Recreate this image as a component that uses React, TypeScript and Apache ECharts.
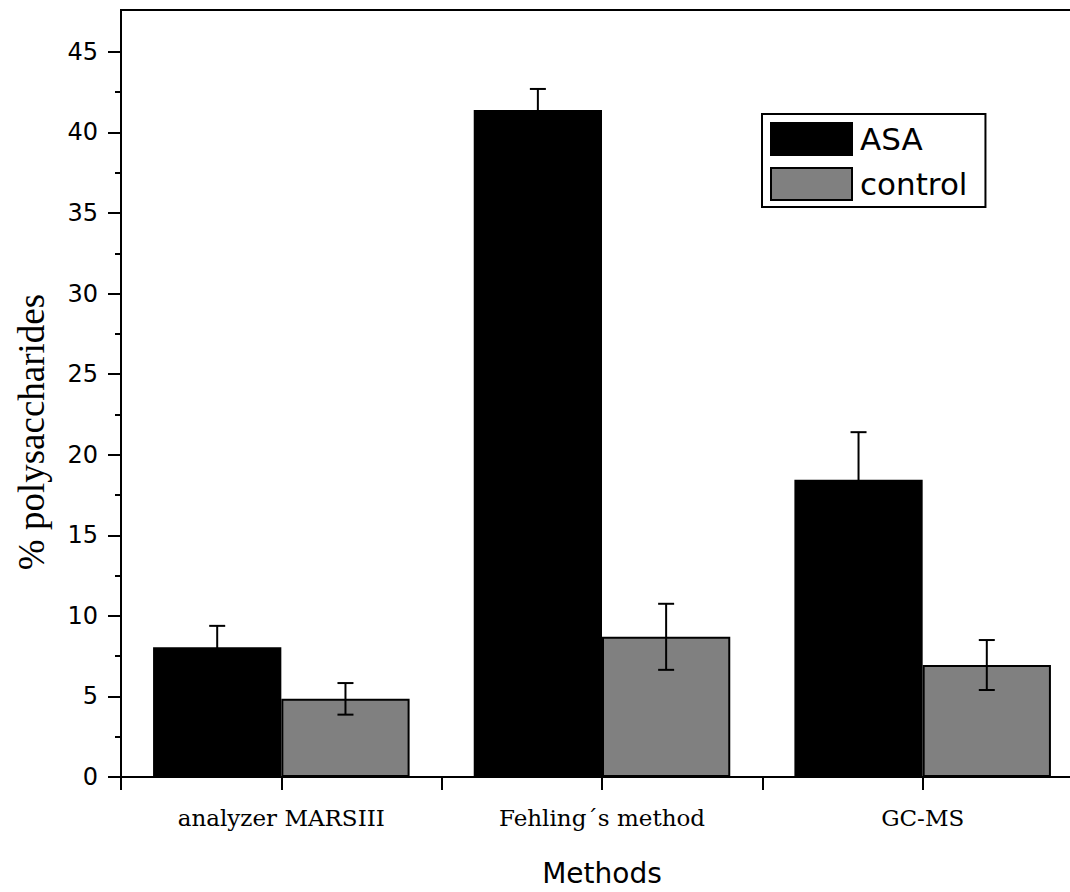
import React, { useEffect, useRef } from "react";
import * as echarts from "echarts";

const CATEGORIES = ["analyzer MARSIII", "Fehling´s method", "GC-MS"];
const ASA_VALUES = [8.05, 41.4, 18.45];
const ASA_ERRORS = [1.33, 1.3, 2.95];
const CONTROL_VALUES = [4.85, 8.7, 6.95];
const CONTROL_ERRORS = [0.98, 2.05, 1.55];
const Y_MAJOR_TICKS = [0, 5, 10, 15, 20, 25, 30, 35, 40, 45];
const Y_MINOR_TICKS = [2.5, 7.5, 12.5, 17.5, 22.5, 27.5, 32.5, 37.5, 42.5];
const Y_MAX = 47.6;
const SERIES_NAMES = ["ASA", "control"];
const X_TITLE = "Methods";
const Y_TITLE = "% polysaccharides";

const BAR_FRACTION = 0.4;

function errorRenderer(side: number) {
  return (params: any, api: any) => {
    const x = api.value(0);
    const y = api.value(1);
    const e = api.value(2);
    const band = api.size([1, 0])[0];
    const off = side * band * BAR_FRACTION / 2;
    const hi = api.coord([x, y + e]);
    const lo = api.coord([x, y - e]);
    const cx = hi[0] + off;
    const cap = 8;
    const style = { stroke: "#000", lineWidth: 2 };
    return {
      type: "group",
      children: [
        { type: "line", shape: { x1: cx, y1: hi[1], x2: cx, y2: lo[1] }, style },
        { type: "line", shape: { x1: cx - cap, y1: hi[1], x2: cx + cap, y2: hi[1] }, style },
        { type: "line", shape: { x1: cx - cap, y1: lo[1], x2: cx + cap, y2: lo[1] }, style },
      ],
    };
  };
}

export default function App() {
  const ref = useRef<HTMLDivElement>(null);
  useEffect(() => {
    if (!ref.current) return;
    const chart = echarts.init(ref.current, null, { renderer: "svg" });
    const axisLine = { show: true, lineStyle: { color: "#000", width: 2 } };
    chart.setOption({
      animation: false,
      backgroundColor: "#fff",
      grid: {
        left: 121,
        top: 10,
        right: 0,
        bottom: 110,
        show: true,
        borderColor: "#000",
        borderWidth: 2,
        backgroundColor: "transparent",
      },
      legend: {
        orient: "vertical",
        left: 762,
        top: 114,
        data: SERIES_NAMES,
        icon: "rect",
        itemWidth: 81,
        itemHeight: 32,
        itemGap: 11,
        borderColor: "#000",
        borderWidth: 2,
        padding: [8, 18, 6, 8],
        textStyle: { fontFamily: "DejaVu Sans", fontSize: 31, color: "#000", padding: [0, 0, 0, 3] },
        itemStyle: { borderColor: "#000", borderWidth: 2 },
      },
      xAxis: [
        {
          type: "category",
          data: CATEGORIES,
          position: "bottom",
          axisLine,
          axisTick: { show: true, inside: false, length: 13, lineStyle: { color: "#000", width: 2 } },
          axisLabel: { color: "#000", fontFamily: "DejaVu Serif", fontSize: 23, margin: 29 },
          name: X_TITLE,
          nameLocation: "middle",
          nameGap: 82,
          nameTextStyle: { color: "#000", fontFamily: "DejaVu Sans", fontSize: 28 },
        },
        {
          type: "category",
          data: CATEGORIES,
          position: "bottom",
          axisLine: { show: false },
          axisTick: { show: true, alignWithLabel: true, length: 13, lineStyle: { color: "#000", width: 2 } },
          axisLabel: { show: false },
        },
      ],
      yAxis: [
        {
          type: "value",
          min: 0,
          max: Y_MAX,
          position: "left",
          axisLine,
          splitLine: { show: false },
          axisTick: { show: true, length: 13, customValues: Y_MAJOR_TICKS, lineStyle: { color: "#000", width: 2 } },
          axisLabel: {
            customValues: Y_MAJOR_TICKS,
            color: "#000",
            fontFamily: "DejaVu Sans",
            fontSize: 24,
            margin: 23,
          },
        },
        {
          type: "value",
          min: 0,
          max: Y_MAX,
          position: "left",
          axisLine: { show: false },
          splitLine: { show: false },
          axisTick: { show: true, length: 6, customValues: Y_MINOR_TICKS, lineStyle: { color: "#000", width: 2 } },
          axisLabel: { show: false },
        },
      ],
      graphic: [
        {
          type: "text",
          x: 31,
          y: 432,
          rotation: Math.PI / 2,
          style: {
            text: Y_TITLE,
            fill: "#000",
            font: "37px 'Liberation Serif'",
            align: "center",
            verticalAlign: "middle",
          },
        },
      ],
      series: [
        {
          name: SERIES_NAMES[0],
          type: "bar",
          xAxisIndex: 0,
          yAxisIndex: 0,
          data: ASA_VALUES,
          barWidth: BAR_FRACTION * 100 + "%",
          barGap: "0%",
          itemStyle: { color: "#000", borderColor: "#000", borderWidth: 2 },
          z: 2,
        },
        {
          name: SERIES_NAMES[1],
          type: "bar",
          xAxisIndex: 0,
          yAxisIndex: 0,
          data: CONTROL_VALUES,
          barWidth: BAR_FRACTION * 100 + "%",
          barGap: "0%",
          itemStyle: { color: "#808080", borderColor: "#000", borderWidth: 2 },
          z: 2,
        },
        {
          type: "custom",
          xAxisIndex: 0,
          yAxisIndex: 0,
          renderItem: errorRenderer(-1),
          data: ASA_VALUES.map((v, i) => [i, v, ASA_ERRORS[i]]),
          encode: { x: 0, y: 1 },
          z: 5,
          silent: true,
        },
        {
          type: "custom",
          xAxisIndex: 0,
          yAxisIndex: 0,
          renderItem: errorRenderer(1),
          data: CONTROL_VALUES.map((v, i) => [i, v, CONTROL_ERRORS[i]]),
          encode: { x: 0, y: 1 },
          z: 5,
          silent: true,
        },
      ],
    });
    return () => chart.dispose();
  }, []);
  return (
    <div
      style={{ position: "absolute", left: 0, top: 0, width: 1070, height: 892, overflow: "hidden" }}
    >
      <div ref={ref} style={{ width: 1083, height: 892 }} />
    </div>
  );
}
